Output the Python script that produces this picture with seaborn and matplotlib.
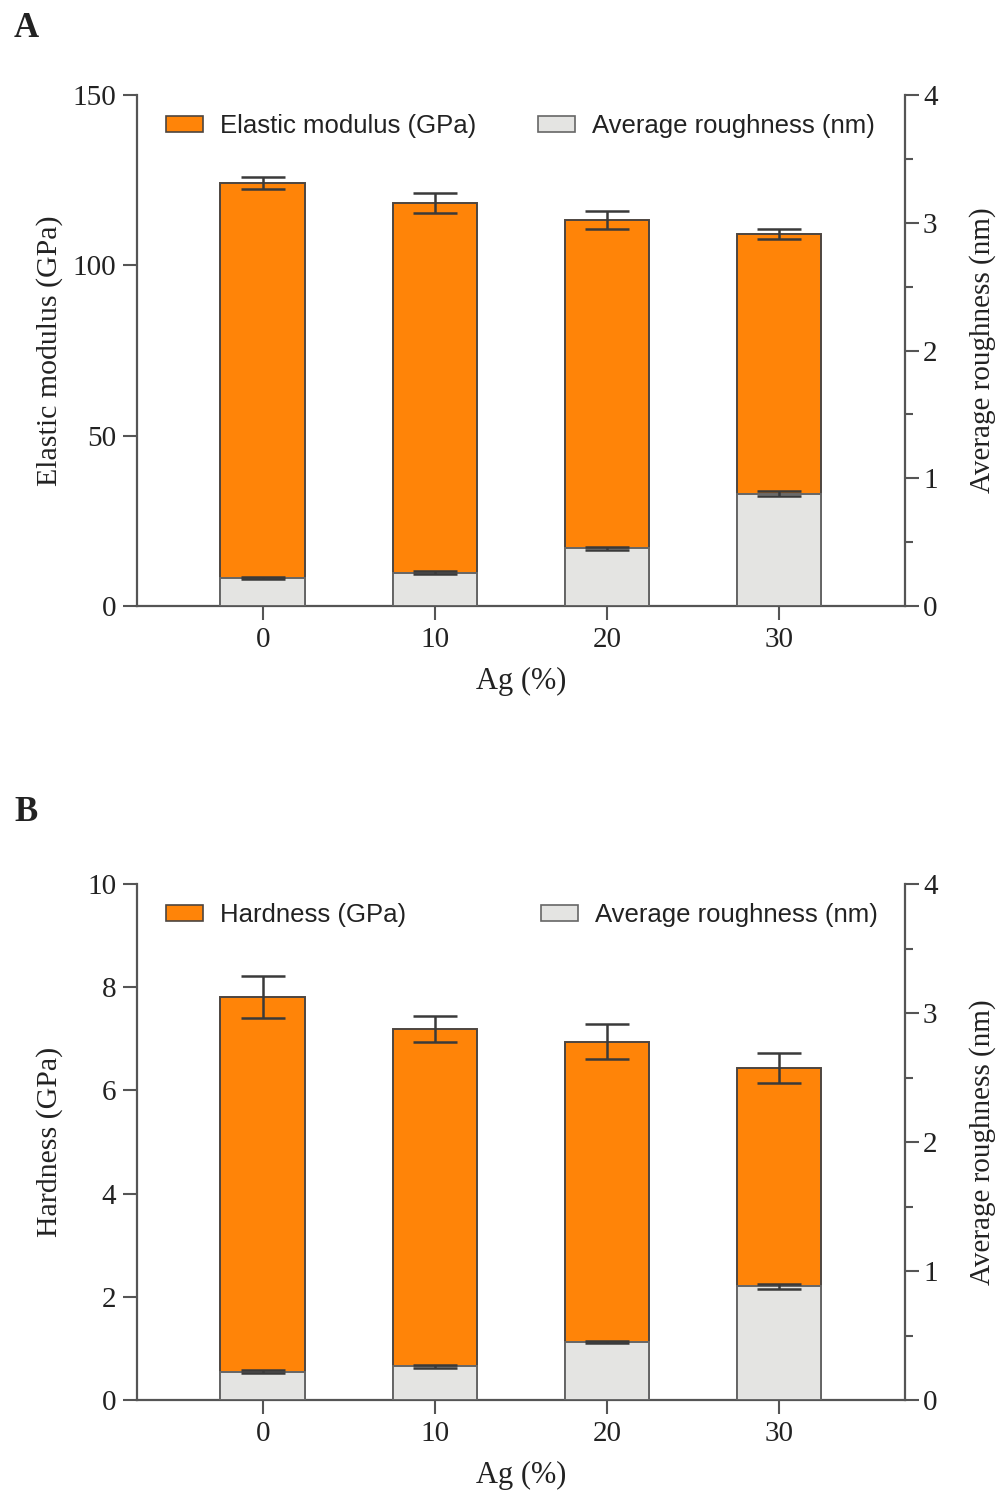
import numpy as np
import seaborn as sns
import matplotlib.pyplot as plt
from matplotlib.patches import Patch
from matplotlib.ticker import MultipleLocator

# Ag content (x categories)
ag = ["0", "10", "20", "30"]

# Panel A: elastic modulus (GPa) with SD
modulus = [124.1, 118.3, 113.4, 109.2]
modulus_err = [1.8, 2.9, 2.6, 1.5]

# Panel B: hardness (GPa) with SD
hardness = [7.81, 7.19, 6.94, 6.43]
hardness_err = [0.41, 0.25, 0.34, 0.29]

# Average roughness (nm), same in both panels
roughness = [0.22, 0.26, 0.45, 0.88]
roughness_err = [0.01, 0.01, 0.01, 0.02]

orange = "#FF8408"
grey = "#E4E4E2"
edge = "#4d4540"
spine_c = "#555555"
text_c = "#222222"

sns.set_style("ticks")
plt.rcParams['font.family'] = ['Liberation Serif', 'DejaVu Serif']
plt.rcParams['text.color'] = text_c
plt.rcParams['axes.labelcolor'] = text_c
plt.rcParams['xtick.color'] = spine_c
plt.rcParams['ytick.color'] = spine_c
plt.rcParams['xtick.labelcolor'] = text_c
plt.rcParams['ytick.labelcolor'] = text_c

fig = plt.figure(figsize=(10.02, 15.07), dpi=100)


def panel(rect, values, errs, ymax, ystep, ylabel, leglabel, letter, leg2_x, letter_y):
    ax = fig.add_axes(rect)
    ax2 = ax.twinx()

    sns.barplot(x=ag, y=values, color=orange, saturation=1, width=0.49,
                edgecolor=edge, linewidth=1.4, errorbar=None, ax=ax)
    ax.errorbar(np.arange(len(ag)), values, yerr=errs, fmt='none',
                ecolor="#3a3a3a", elinewidth=1.8, capsize=16, capthick=1.8)

    sns.barplot(x=ag, y=roughness, color=grey, saturation=1, width=0.49,
                edgecolor="#666666", linewidth=1.4, errorbar=None, ax=ax2)
    ax2.errorbar(np.arange(len(ag)), roughness, yerr=roughness_err, fmt='none',
                 ecolor="#3a3a3a", elinewidth=1.8, capsize=16, capthick=1.8)

    ax.set_ylim(0, ymax)
    ax.set_yticks(np.arange(0, ymax + ystep / 2, ystep))
    ax2.set_ylim(0, 4)
    ax2.set_yticks(np.arange(0, 5, 1))
    ax2.yaxis.set_minor_locator(MultipleLocator(0.5))
    ax.set_xlim(-0.73, 3.73)

    for a in (ax, ax2):
        a.spines['top'].set_visible(False)
        for s in a.spines.values():
            s.set_color(spine_c)
            s.set_linewidth(1.6)
    ax.spines['right'].set_visible(False)
    ax2.spines['left'].set_visible(False)
    ax2.spines['bottom'].set_visible(False)

    ax.tick_params(axis='both', which='major', direction='out', length=10,
                   width=1.5, labelsize=21, pad=5)
    ax2.tick_params(axis='y', which='major', direction='out', length=10,
                    width=1.5, labelsize=21, pad=3)
    ax2.tick_params(axis='y', which='minor', direction='out', length=6,
                    width=1.5)

    ax.set_xlabel("Ag (%)", fontsize=22, labelpad=10)
    ax.set_ylabel(ylabel, fontsize=21.5)
    ax.yaxis.set_label_coords(-0.096, 0.5)
    ax2.set_ylabel("Average roughness (nm)", fontsize=21)
    ax2.yaxis.set_label_coords(1.084, 0.5)

    ax.legend(handles=[Patch(facecolor=orange, edgecolor=edge, linewidth=1.2)],
              labels=[leglabel], loc='center left',
              bbox_to_anchor=(0.038, 0.94), frameon=False,
              prop={'family': 'Liberation Sans', 'size': 18.5},
              handlelength=1.45, handleheight=0.6, handletextpad=0.65,
              borderpad=0, borderaxespad=0)
    ax2.legend(handles=[Patch(facecolor=grey, edgecolor="#666666", linewidth=1.2)],
               labels=["Average roughness (nm)"], loc='center left',
               bbox_to_anchor=(leg2_x, 0.94), frameon=False,
               prop={'family': 'Liberation Sans', 'size': 18.5},
               handlelength=1.45, handleheight=0.6, handletextpad=0.65,
               borderpad=0, borderaxespad=0)
    fig.text(0.014, letter_y, letter, fontsize=25,
             fontweight='bold', ha='left', va='center')
    return ax, ax2


panel([0.1367, 0.5979, 0.7665, 0.339], modulus, modulus_err, 150, 50,
      "Elastic modulus (GPa)", "Elastic modulus (GPa)", "A", 0.522, 0.981)
panel([0.1367, 0.071, 0.7665, 0.3424], hardness, hardness_err, 10, 2,
      "Hardness (GPa)", "Hardness (GPa)", "B", 0.526, 0.461)

fig.savefig("out.png", dpi=100)
